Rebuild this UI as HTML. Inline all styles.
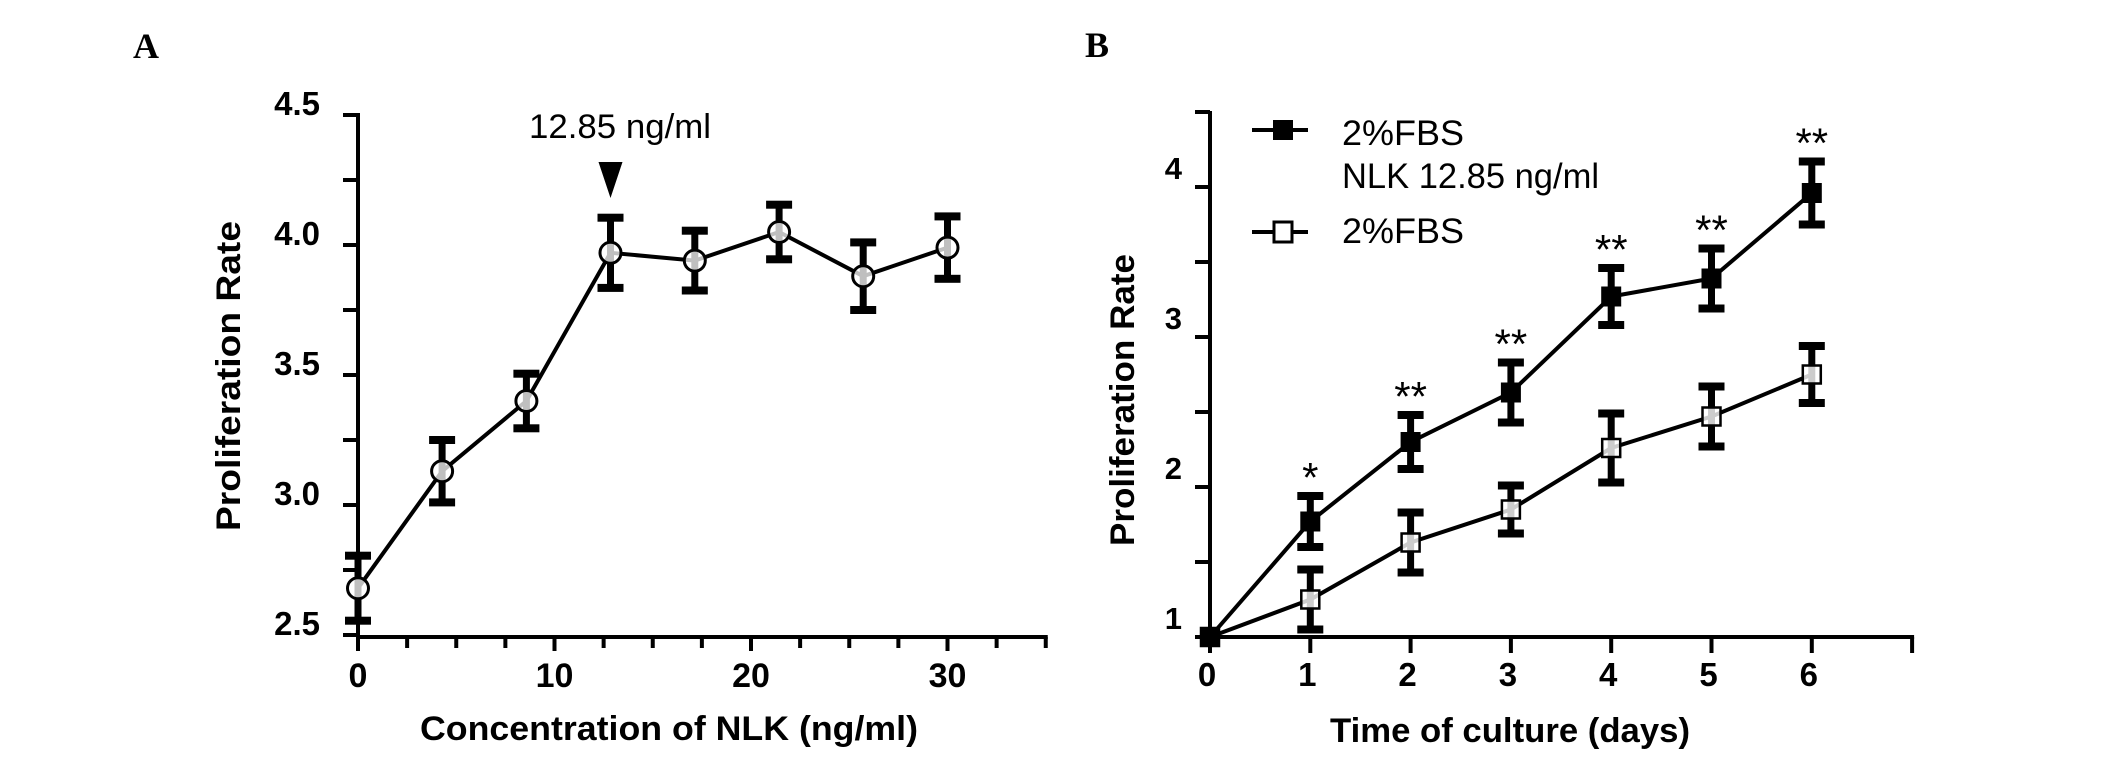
<!DOCTYPE html>
<html><head><meta charset="utf-8"><style>
html,body{margin:0;padding:0;background:#fff;}
svg{display:block;}
text{font-family:"Liberation Sans",Arial,sans-serif;fill:#000;}
</style></head><body>
<svg id="fig" width="2126" height="758" viewBox="0 0 2126 758" xmlns="http://www.w3.org/2000/svg">
<text x="133" y="58" style="font-family:'Liberation Serif',serif;font-weight:bold;font-size:36px">A</text>
<text x="1085" y="57" style="font-family:'Liberation Serif',serif;font-weight:bold;font-size:36px">B</text>
<g id="ga"></g>
<g id="gb"></g>
</svg>
<script>
// Panel A data
const concX = [0, 4.28, 8.57, 12.85, 17.14, 21.43, 25.71, 30];
const rateA = [2.68, 3.13, 3.40, 3.97, 3.94, 4.05, 3.88, 3.99];
const errA = [0.125, 0.12, 0.105, 0.135, 0.115, 0.105, 0.13, 0.12];
const ticksAx = [0, 10, 20, 30];
const ticksAy = ["2.5", "3.0", "3.5", "4.0", "4.5"];
// Panel B data
const days = [0, 1, 2, 3, 4, 5, 6];
const rateNLK = [1.0, 1.77, 2.30, 2.63, 3.27, 3.39, 3.96];
const errNLK = [0.03, 0.17, 0.18, 0.2, 0.19, 0.2, 0.21];
const rateFBS = [1.0, 1.25, 1.63, 1.85, 2.26, 2.47, 2.75];
const errFBS = [0.03, 0.2, 0.2, 0.16, 0.23, 0.2, 0.19];
const sigLabels = ["", "*", "**", "**", "**", "**", "**"];
const ticksBx = [0, 1, 2, 3, 4, 5, 6];
const ticksBy = ["1", "2", "3", "4"];

const NS = "http://www.w3.org/2000/svg";
function mk(parent, tag, attrs, txt) {
  const e = document.createElementNS(NS, tag);
  for (const k in attrs) e.setAttribute(k, attrs[k]);
  if (txt !== undefined) e.textContent = txt;
  parent.appendChild(e);
  return e;
}
function errBar(g, x, yT, yB, name) {
  const grp = mk(g, "g", {});
  
  
  mk(grp, "line", {x1: x, x2: x, y1: yT, y2: yB, stroke: "#000", "stroke-width": 7});
  mk(grp, "rect", {x: x - 13, y: yT - 4, width: 26, height: 8, fill: "#000"});
  mk(grp, "rect", {x: x - 13, y: yB - 4, width: 26, height: 8, fill: "#000"});
}

// ---------- Panel A ----------
const ga = document.getElementById("ga");
const axA = v => 358 + v * 19.65;
const ayA = v => 635 - (v - 2.5) * 260;
mk(ga, "line", {x1: 358, x2: 358, y1: 113, y2: 639, stroke: "#000", "stroke-width": 4});
mk(ga, "line", {x1: 356, x2: axA(35) + 2, y1: 637, y2: 637, stroke: "#000", "stroke-width": 4});
for (let v = 2.5; v <= 4.51; v += 0.25) {
  const t = mk(ga, "line", {x1: 343, x2: 358, y1: ayA(v), y2: ayA(v), stroke: "#000", "stroke-width": 4});
  
  
}
ticksAy.forEach(s => {
  const t = mk(ga, "text", {x: 320, y: ayA(parseFloat(s)), "text-anchor": "end", "font-size": 33, "font-weight": "bold"}, s);
  
  
});
for (let v = 0; v <= 35.01; v += 2.5) {
  const major = Math.abs(v % 10) < 0.01;
  const t = mk(ga, "line", {x1: axA(v), x2: axA(v), y1: 637, y2: major ? 651 : 648, stroke: "#000", "stroke-width": 4});
  
  
}
ticksAx.forEach(v => {
  const t = mk(ga, "text", {x: axA(v), y: 687, "text-anchor": "middle", "font-size": 34, "font-weight": "bold"}, String(v));
  
  
});
let t1 = mk(ga, "text", {x: 669, y: 740, "text-anchor": "middle", "font-size": 34, "font-weight": "bold", textLength: 498, lengthAdjust: "spacingAndGlyphs"}, "Concentration of NLK (ng/ml)");


let t2 = mk(ga, "text", {x: 0, y: 0, transform: "translate(240,376) rotate(-90)", "text-anchor": "middle", "font-size": 34, "font-weight": "bold", textLength: 310, lengthAdjust: "spacingAndGlyphs"}, "Proliferation Rate");


// annotation
let an = mk(ga, "text", {x: 620, y: 138, "text-anchor": "middle", "font-size": 34, textLength: 182, lengthAdjust: "spacingAndGlyphs"}, "12.85 ng/ml");


let tri = mk(ga, "polygon", {points: `${axA(12.85) - 12},162 ${axA(12.85) + 12},162 ${axA(12.85)},198`, fill: "#000"});


// line
let ptsA = concX.map((c, i) => `${axA(c)},${ayA(rateA[i])}`).join(" ");
let plA = mk(ga, "polyline", {points: ptsA, fill: "none", stroke: "#000", "stroke-width": 4});


concX.forEach((c, i) => {
  errBar(ga, axA(c), ayA(rateA[i] + errA[i]), ayA(rateA[i] - errA[i]), 'error-bar');
});
concX.forEach((c, i) => {
  const m = mk(ga, "circle", {cx: axA(c), cy: ayA(rateA[i]), r: 10.5, fill: "rgba(255,255,255,0.75)", stroke: "#000", "stroke-width": 3});
  
  
});

// ---------- Panel B ----------
const gb = document.getElementById("gb");
const axB = v => 1210 + v * 100.3;
const ayB = v => 637 - (v - 1) * 150;
mk(gb, "line", {x1: 1210, x2: 1210, y1: 111, y2: 639, stroke: "#000", "stroke-width": 4});
mk(gb, "line", {x1: 1208, x2: axB(7) + 2, y1: 637, y2: 637, stroke: "#000", "stroke-width": 4});
for (let v = 1; v <= 4.51; v += 0.5) {
  const t = mk(gb, "line", {x1: 1195, x2: 1210, y1: ayB(v), y2: ayB(v), stroke: "#000", "stroke-width": 4});
  
  
}
ticksBy.forEach(s => {
  const t = mk(gb, "text", {x: 1182, y: ayB(parseFloat(s)) - 8, "text-anchor": "end", "font-size": 31, "font-weight": "bold"}, s);
  
  
});
for (let v = 0; v <= 7; v++) {
  const t = mk(gb, "line", {x1: axB(v), x2: axB(v), y1: 637, y2: 653, stroke: "#000", "stroke-width": 4});
  
  
}
ticksBx.forEach(v => {
  const t = mk(gb, "text", {x: axB(v) - 3, y: 686, "text-anchor": "middle", "font-size": 33, "font-weight": "bold"}, String(v));
  
  
});
let t3 = mk(gb, "text", {x: 1510, y: 742, "text-anchor": "middle", "font-size": 34, "font-weight": "bold", textLength: 360, lengthAdjust: "spacingAndGlyphs"}, "Time of culture (days)");


let t4 = mk(gb, "text", {x: 0, y: 0, transform: "translate(1134,400) rotate(-90)", "text-anchor": "middle", "font-size": 34, "font-weight": "bold", textLength: 292, lengthAdjust: "spacingAndGlyphs"}, "Proliferation Rate");



function series(vals, errs, filled, name) {
  const pl = mk(gb, "polyline", {points: days.map((d, i) => `${axB(d)},${ayB(vals[i])}`).join(" "), fill: "none", stroke: "#000", "stroke-width": 4});
  
  
  days.forEach((d, i) => {
    if (d > 0) errBar(gb, axB(d), ayB(vals[i] + errs[i]), ayB(vals[i] - errs[i]), name + '-error-bar');
  });
  days.forEach((d, i) => {
    const m = filled
      ? mk(gb, "rect", {x: axB(d) - 10, y: ayB(vals[i]) - 10, width: 20, height: 20, fill: "#000"})
      : mk(gb, "rect", {x: axB(d) - 9, y: ayB(vals[i]) - 9, width: 18, height: 18, fill: "rgba(255,255,255,0.8)", stroke: "#000", "stroke-width": 2.5});
    
    
  });
}
series(rateFBS, errFBS, false, 'fbs-series');
series(rateNLK, errNLK, true, 'nlk-series');
days.forEach((d, i) => {
  if (!sigLabels[i]) return;
  const t = mk(gb, "text", {x: axB(d), y: ayB(rateNLK[i] + errNLK[i]) - 4, "text-anchor": "middle", "font-size": 42}, sigLabels[i]);
  
  
});
// legend
const lg = mk(gb, "g", {});


mk(lg, "line", {x1: 1252, x2: 1308, y1: 130, y2: 130, stroke: "#000", "stroke-width": 4});
mk(lg, "rect", {x: 1273, y: 120, width: 20, height: 20, fill: "#000"});
let l1 = mk(lg, "text", {x: 1342, y: 145, "font-size": 35, textLength: 122, lengthAdjust: "spacingAndGlyphs"}, "2%FBS");


mk(lg, "text", {x: 1342, y: 188, "font-size": 35, textLength: 257, lengthAdjust: "spacingAndGlyphs"}, "NLK 12.85 ng/ml");
mk(lg, "line", {x1: 1252, x2: 1308, y1: 232, y2: 232, stroke: "#000", "stroke-width": 4});
mk(lg, "rect", {x: 1274, y: 222, width: 18, height: 20, fill: "#fff", stroke: "#000", "stroke-width": 3});
let l2 = mk(lg, "text", {x: 1342, y: 243, "font-size": 35, textLength: 122, lengthAdjust: "spacingAndGlyphs"}, "2%FBS");


</script>
</body></html>
